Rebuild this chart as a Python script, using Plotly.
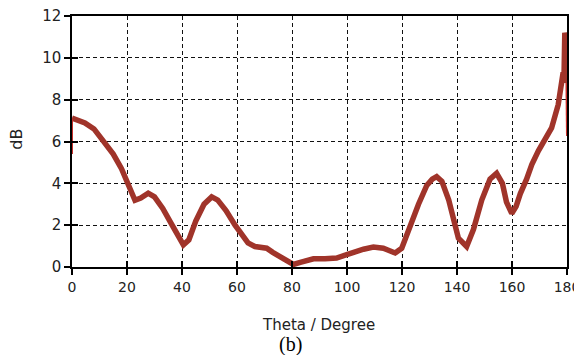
import plotly.graph_objects as go

# Main curve (Theta in degrees, gain in dB)
theta = [0, 0.5, 2, 4.7, 8, 11.8, 15, 18, 20.5, 22.9, 25, 27.7, 30, 33, 36, 38.5,
         40.5, 42.5, 45, 48, 50.8, 53, 56, 59.3, 62, 64, 66.5, 68.5, 70.8, 73, 76,
         78.5, 80.5, 83, 87.8, 92, 96.2, 99.9, 103, 106, 109.6, 113.2, 115.5, 117.5,
         119.9, 122.9, 126, 129, 131, 132.6, 134.5, 137, 140.5, 143.5, 146, 149, 152,
         154.4, 156.5, 158, 159.9, 161.5, 163, 165.3, 167.2, 169.6, 172, 174.4, 176.8,
         178, 178.6, 178.9, 179.2, 179.5, 179.8]
gain = [7.12, 7.1, 7.0, 6.89, 6.6, 6.0, 5.4, 4.7, 4.0, 3.19, 3.3, 3.53, 3.35, 2.8, 2.1,
        1.5, 1.06, 1.3, 2.2, 3.0, 3.35, 3.2, 2.7, 2.0, 1.5, 1.15, 0.98, 0.92, 0.9, 0.7,
        0.45, 0.25, 0.12, 0.22, 0.39, 0.4, 0.43, 0.59, 0.75, 0.85, 0.95, 0.9, 0.78, 0.67,
        0.9, 2.0, 3.0, 3.9, 4.2, 4.32, 4.1, 3.2, 1.38, 0.98, 1.8, 3.2, 4.2, 4.48, 4.0,
        3.1, 2.56, 2.9, 3.5, 4.2, 4.9, 5.55, 6.1, 6.65, 7.76, 8.86, 9.3, 9.0, 11.2, 11.0, 8.8]

# Thin edge segments at both ends
start_x = [0, 0]
start_y = [5.4, 7.12]
end_x = [179.8, 180]
end_y = [8.8, 6.26]

x_ticks = [0, 20, 40, 60, 80, 100, 120, 140, 160, 180]
y_ticks = [0, 2, 4, 6, 8, 10, 12]

line_color = "#A0342A"

# page body has an 8px margin on every side; keep the figure inside the window
OFF = 8
W, H = 582 - OFF, 363 - 2 * OFF
ML, MR, MT = 72 - OFF, 15, 16 - OFF
MB = H - (267.5 - OFF)

fig = go.Figure()
fig.add_trace(go.Scatter(x=theta, y=gain, mode="lines",
                         line=dict(color=line_color, width=5.5), showlegend=False))
fig.add_trace(go.Scatter(x=start_x, y=start_y, mode="lines",
                         line=dict(color="#C8302A", width=2), showlegend=False))
fig.add_trace(go.Scatter(x=end_x, y=end_y, mode="lines",
                         line=dict(color="#C8302A", width=2), showlegend=False))
# invisible trace to hold the inside-tick overlay axes
fig.add_trace(go.Scatter(x=[0], y=[0], xaxis="x2", yaxis="y2", mode="markers",
                         marker=dict(opacity=0), showlegend=False, hoverinfo="skip"))

axis_font = "DejaVu Sans"
fig.update_layout(
    width=W, height=H,
    margin=dict(l=ML, r=MR, t=MT, b=MB, autoexpand=False),
    paper_bgcolor="white", plot_bgcolor="white",
    xaxis=dict(range=[0, 180], tickvals=x_ticks, ticks="outside", ticklen=6,
               tickcolor="black", tickwidth=1.5, automargin=False,
               showline=True, linecolor="black", linewidth=1.5, mirror=True,
               showgrid=True, gridcolor="#111", griddash="4px,3px", gridwidth=1.4,
               zeroline=False, ticklabeloverflow="allow",
               tickfont=dict(family=axis_font, size=14, color="#222")),
    yaxis=dict(range=[0, 12], tickvals=y_ticks, ticks="outside", ticklen=6,
               tickcolor="black", tickwidth=1.5, automargin=False,
               showline=True, linecolor="black", linewidth=1.5, mirror=True,
               showgrid=True, gridcolor="#111", griddash="4px,3px", gridwidth=1.4,
               zeroline=False, ticklabeloverflow="allow",
               tickfont=dict(family=axis_font, size=15, color="#222")),
    xaxis2=dict(range=[0, 180], tickvals=x_ticks, ticks="inside", ticklen=6,
                tickcolor="black", tickwidth=1.5, overlaying="x", anchor="y2",
                side="bottom", showticklabels=False, showgrid=False,
                zeroline=False, showline=False, automargin=False),
    yaxis2=dict(range=[0, 12], tickvals=y_ticks, ticks="inside", ticklen=6,
                tickcolor="black", tickwidth=1.5, overlaying="y", anchor="x2",
                side="left", showticklabels=False, showgrid=False,
                zeroline=False, showline=False, automargin=False),
)

pw = W - ML - MR
ph = H - MT - MB


def px2paper(px, py):
    # px, py are positions in the 582x363 window
    return (px - OFF - ML) / pw, 1 - (py - OFF - MT) / ph


texts = [
    ("dB", 17, 140, -90, dict(family=axis_font, size=16, color="#222")),
    ("Theta / Degree", 318, 326, 0, dict(family=axis_font, size=15, color="#222")),
    ("(b)", 290, 345, 0, dict(family="Liberation Serif", size=20, color="black")),
]
for t, px, py, ang, f in texts:
    xp, yp = px2paper(px, py)
    fig.add_annotation(text=t, x=xp, y=yp, xref="paper", yref="paper",
                       showarrow=False, textangle=ang, font=f,
                       xanchor="center", yanchor="middle")

fig.write_html("out.html")
